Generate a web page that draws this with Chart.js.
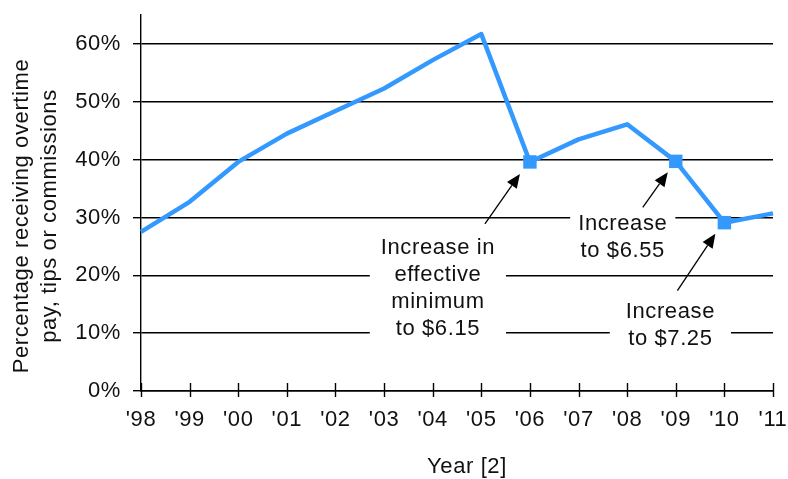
<!DOCTYPE html>
<html>
<head>
<meta charset="utf-8">
<script src="https://cdn.jsdelivr.net/npm/chart.js@4/dist/chart.umd.min.js"></script>
<style>
  html, body { margin: 0; padding: 0; background: #fff; }
  #wrap { width: 788px; height: 479px; position: relative; }
</style>
</head>
<body>
<div id="wrap"><canvas id="c" width="788" height="479"></canvas></div>
<script>
// ---- data ----
const years = ["'98", "'99", "'00", "'01", "'02", "'03", "'04", "'05", "'06", "'07", "'08", "'09", "'10", "'11"];
const pctValues = [27.5, 32.7, 39.6, 44.5, 48.4, 52.3, 57.2, 61.7, 39.6, 43.5, 46.1, 39.7, 29.1, 30.7];
const yTickValues = [0, 10, 20, 30, 40, 50, 60];
const markedYears = ["'06", "'09", "'10"];
const yTitleLines = ["Percentage receiving overtime", "pay, tips or commissions"];
const xTitle = "Year [2]";
const note615 = ["Increase in", "effective", "minimum", "to $6.15"];
const note655 = ["Increase", "to $6.55"];
const note725 = ["Increase", "to $7.25"];

const FONT = "'Liberation Sans', Arial, sans-serif";
const FS = 22;
const LS = '0.6px';
const LINE_COLOR = '#3399FF';
const TXT = '#111';

// annotation layout (offsets relative to the targeted data point)
const notes = [
  { year: "'06", lines: note615, dx: -92, dy: 86, tail: [-45, 62], tip: [-10, 12], padX: 11 },
  { year: "'09", lines: note655, dx: -53, dy: 63, tail: [-33, 46], tip: [-8, 11], padX: 8 },
  { year: "'10", lines: note725, dx: -54, dy: 89, tail: [-47, 68], tip: [-9, 11], padX: 16 }
];

const spacingPlugin = {
  id: 'spacing',
  beforeDraw(chart) { chart.ctx.letterSpacing = LS; }
};

const crossTicks = {
  id: 'crossTicks',
  afterDraw(chart) {
    const ctx = chart.ctx, xs = chart.scales.x, b = chart.chartArea.bottom;
    ctx.save();
    ctx.strokeStyle = '#000';
    ctx.lineWidth = 1.4;
    years.forEach((y, i) => {
      const px = Math.round(xs.getPixelForValue(i)) + 0.5;
      ctx.beginPath();
      ctx.moveTo(px, b - 8);
      ctx.lineTo(px, b + 6);
      ctx.stroke();
    });
    ctx.restore();
  }
};

const titles = {
  id: 'titles',
  afterDraw(chart) {
    const ctx = chart.ctx, ca = chart.chartArea;
    ctx.save();
    ctx.letterSpacing = LS;
    ctx.fillStyle = TXT;
    ctx.font = FS + 'px ' + FONT;
    ctx.textAlign = 'center';
    ctx.textBaseline = 'middle';
    ctx.save();
    ctx.translate(22, 216);
    ctx.rotate(-Math.PI / 2);
    ctx.fillText(yTitleLines[0], 0, 0);
    ctx.fillText(yTitleLines[1], 0, 28);
    ctx.restore();
    ctx.fillText(xTitle, (ca.left + ca.right) / 2 + 10, 467);
    ctx.restore();
  }
};

function arrow(ctx, x1, y1, x2, y2) {
  const ang = Math.atan2(y2 - y1, x2 - x1);
  const L = 14, W = 6;
  const bx = x2 - L * Math.cos(ang), by = y2 - L * Math.sin(ang);
  ctx.beginPath();
  ctx.moveTo(x1, y1);
  ctx.lineTo(bx, by);
  ctx.stroke();
  ctx.beginPath();
  ctx.moveTo(x2, y2);
  ctx.lineTo(bx + W * Math.sin(ang), by - W * Math.cos(ang));
  ctx.lineTo(bx - W * Math.sin(ang), by + W * Math.cos(ang));
  ctx.closePath();
  ctx.fill();
}

const annotations = {
  id: 'annotations',
  beforeDatasetsDraw(chart) {
    const ctx = chart.ctx, xs = chart.scales.x, ys = chart.scales.y;
    ctx.save();
    ctx.letterSpacing = LS;
    ctx.font = FS + 'px ' + FONT;
    ctx.textAlign = 'center';
    ctx.textBaseline = 'middle';
    const LH = 27;
    notes.forEach(n => {
      const i = years.indexOf(n.year);
      const px = xs.getPixelForValue(i), py = ys.getPixelForValue(pctValues[i]);
      const cx = px + n.dx, cy = py + n.dy;
      const w = Math.max(...n.lines.map(t => ctx.measureText(t).width)) + 2 * n.padX;
      const top = cy - 14, h = (n.lines.length - 1) * LH + 28;
      ctx.fillStyle = '#fff';
      ctx.fillRect(cx - w / 2, top, w, h);
      ctx.fillStyle = TXT;
      n.lines.forEach((t, k) => ctx.fillText(t, cx, cy + k * LH));
      ctx.strokeStyle = '#000';
      ctx.fillStyle = '#000';
      ctx.lineWidth = 1.3;
      arrow(ctx, px + n.tail[0], py + n.tail[1], px + n.tip[0], py + n.tip[1]);
    });
    ctx.restore();
  }
};

new Chart(document.getElementById('c'), {
  type: 'line',
  data: {
    labels: years,
    datasets: [{
      data: pctValues,
      borderColor: LINE_COLOR,
      backgroundColor: LINE_COLOR,
      borderWidth: 4.5,
      tension: 0,
      pointStyle: 'rect',
      pointRadius: ctx => markedYears.includes(years[ctx.dataIndex]) ? 9.5 : 0,
      pointHoverRadius: ctx => markedYears.includes(years[ctx.dataIndex]) ? 9.5 : 0,
      pointBorderWidth: 0,
      borderJoinStyle: 'round',
      clip: false
    }]
  },
  options: {
    responsive: false,
    animation: false,
    devicePixelRatio: 1,
    layout: { padding: { top: 15, right: 15, left: 0, bottom: 0 } },
    plugins: { legend: { display: false }, tooltip: { enabled: false } },
    events: [],
    scales: {
      x: {
        type: 'category',
        offset: false,
        afterFit: s => { s.height = 88; s.paddingLeft = 0; s.paddingRight = 0; },
        grid: { drawOnChartArea: false, drawTicks: false, color: '#000' },
        border: { color: '#000', width: 1.4 },
        ticks: {
          autoSkip: false, maxRotation: 0, padding: 16,
          color: TXT, font: { family: FONT, size: FS }
        }
      },
      y: {
        min: 0, max: 65,
        afterFit: s => { s.width = 141; s.paddingTop = 0; s.paddingBottom = 0; },
        afterBuildTicks: s => { s.ticks = yTickValues.map(v => ({ value: v })); },
        grid: { color: '#000', lineWidth: 1.4, tickLength: 8 },
        border: { color: '#000', width: 1.4 },
        ticks: {
          padding: 12, color: TXT,
          font: { family: FONT, size: FS },
          callback: v => v + '%'
        }
      }
    }
  },
  plugins: [spacingPlugin, annotations, crossTicks, titles]
});
</script>
</body>
</html>
